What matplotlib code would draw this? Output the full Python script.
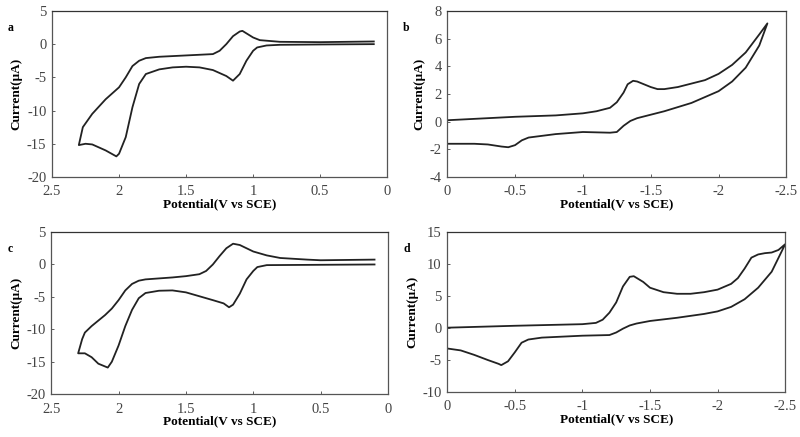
import matplotlib
matplotlib.use("Agg")
import matplotlib.pyplot as plt

plt.rcParams['font.family'] = ['Liberation Serif', 'DejaVu Serif']

# panel a: loop of (potential, current) points
a_x = [0.1, 0.5, 0.8, 0.9, 0.97, 1.0, 1.05, 1.1, 1.15, 1.2, 1.3, 1.4, 1.5, 1.6, 1.7, 1.8, 1.85, 1.9, 1.95,
       2.0, 2.02, 2.1, 2.2, 2.25, 2.3,
       2.27, 2.2, 2.1, 2.0, 1.95, 1.9, 1.85, 1.8, 1.7, 1.5, 1.3, 1.25, 1.2, 1.15, 1.1, 1.08, 1.0, 0.95, 0.8,
       0.5, 0.1]
a_y = [0.0, -0.05, -0.1, -0.2, -0.5, -1.0, -2.5, -4.5, -5.5, -4.8, -3.9, -3.5, -3.4, -3.5, -3.8, -4.5, -6.0,
       -9.5, -14.0, -16.5, -16.9, -16.0, -15.1, -15.0, -15.2,
       -12.5, -10.5, -8.3, -6.5, -5.0, -3.3, -2.5, -2.1, -1.9, -1.7, -1.5, -1.0, 0.0, 1.2, 1.9, 2.0, 1.0, 0.6,
       0.35, 0.3, 0.4]

# panel b
b_x = [0, -0.2, -0.3, -0.4, -0.45, -0.5, -0.55, -0.6, -0.8, -1.0, -1.2, -1.25, -1.3, -1.35, -1.4, -1.5, -1.6,
       -1.8, -2.0, -2.1, -2.2, -2.3, -2.36,
       -2.3, -2.2, -2.1, -2.0, -1.9, -1.8, -1.7, -1.6, -1.55, -1.5, -1.45, -1.4, -1.37, -1.33, -1.3, -1.25,
       -1.2, -1.1, -1.0, -0.8, -0.5, 0]
b_y = [-1.6, -1.6, -1.65, -1.8, -1.85, -1.7, -1.35, -1.15, -0.9, -0.75, -0.8, -0.75, -0.3, 0.05, 0.25, 0.5,
       0.75, 1.35, 2.2, 2.9, 3.9, 5.5, 7.1,
       6.3, 5.0, 4.1, 3.45, 3.0, 2.75, 2.5, 2.35, 2.35, 2.5, 2.7, 2.9, 2.95, 2.7, 2.1, 1.4,
       1.0, 0.75, 0.6, 0.45, 0.35, 0.1]

# panel c
c_x = [0.1, 0.5, 0.9, 0.97, 1.0, 1.05, 1.1, 1.15, 1.18, 1.22, 1.3, 1.4, 1.5, 1.6, 1.7, 1.8, 1.85, 1.9, 1.95,
       2.0, 2.05, 2.08, 2.15, 2.2, 2.25, 2.3,
       2.27, 2.25, 2.2, 2.1, 2.05, 2.0, 1.95, 1.9, 1.85, 1.8, 1.6, 1.5, 1.4, 1.35, 1.3, 1.25, 1.2, 1.15,
       1.1, 1.0, 0.9, 0.8, 0.6, 0.5, 0.3, 0.1]
c_y = [0.0, -0.05, -0.1, -0.4, -1.0, -2.3, -4.5, -6.2, -6.6, -6.0, -5.5, -4.9, -4.3, -4.0, -4.05, -4.4, -5.2,
       -7.0, -9.5, -12.5, -15.0, -15.9, -15.3, -14.3, -13.7, -13.7,
       -11.5, -10.5, -9.5, -7.8, -6.8, -5.5, -4.0, -3.0, -2.5, -2.3, -2.0, -1.8, -1.5, -1.0, 0.0, 1.3, 2.5,
       3.2, 3.0, 2.0, 1.4, 1.0, 0.75, 0.65, 0.7, 0.75]

# panel d
d_x = [0, -0.1, -0.2, -0.3, -0.38, -0.4, -0.45, -0.5, -0.55, -0.6, -0.7, -0.9, -1.0, -1.2, -1.25, -1.3,
       -1.35, -1.4, -1.5, -1.7, -1.9, -2.0, -2.1, -2.2, -2.3, -2.4, -2.5,
       -2.45, -2.4, -2.35, -2.3, -2.25, -2.2, -2.15, -2.1, -2.0, -1.9, -1.8, -1.7, -1.6, -1.5, -1.45,
       -1.38, -1.35, -1.3, -1.25, -1.2, -1.15, -1.1, -1.0, -0.5, 0]
d_y = [-3.2, -3.5, -4.2, -5.0, -5.6, -5.8, -5.2, -3.8, -2.3, -1.8, -1.5, -1.3, -1.2, -1.1, -0.7, -0.1,
       0.4, 0.7, 1.1, 1.6, 2.2, 2.6, 3.3, 4.5, 6.3, 8.8, 13.1,
       12.2, 11.8, 11.7, 11.5, 11.0, 9.3, 7.8, 6.9, 6.0, 5.6, 5.35, 5.35, 5.6, 6.3, 7.2,
       8.1, 8.0, 6.5, 4.0, 2.4, 1.3, 0.8, 0.6, 0.35, 0.05]

a_xticks = [2.5, 2, 1.5, 1, 0.5, 0]
a_xlabels = ['2.5', '2', '1.5', '1', '0.5', '0']
neg_xticks = [0, -0.5, -1, -1.5, -2, -2.5]
neg_xlabels = ['0', '-0.5', '-1', '-1.5', '-2', '-2.5']

panels = [
    ('a', a_x, a_y, [0.065, 0.595, 0.419, 0.380], (2.5, 0), (-20, 5), range(-20, 6, 5), a_xticks, a_xlabels),
    ('b', b_x, b_y, [0.559, 0.595, 0.424, 0.380], (0, -2.5), (-4, 8), range(-4, 9, 2), neg_xticks, neg_xlabels),
    ('c', c_x, c_y, [0.064, 0.098, 0.421, 0.371], (2.5, 0), (-20, 5), range(-20, 6, 5), a_xticks, a_xlabels),
    ('d', d_x, d_y, [0.559, 0.103, 0.4225, 0.366], (0, -2.5), (-10, 15), range(-10, 16, 5), neg_xticks, neg_xlabels),
]

fig = plt.figure(figsize=(8, 4.37), dpi=100)
for label, xs, ys, rect, xlim, ylim, yt, xt, xtl in panels:
    ax = fig.add_axes(rect)
    ax.plot(xs, ys, color='#222222', lw=1.3)
    ax.set_xlim(*xlim)
    ax.set_ylim(*ylim)
    ax.set_yticks(list(yt))
    ax.set_yticklabels([str(v) for v in yt])
    ax.set_xticks(xt)
    ax.set_xticklabels(xtl)
    ax.tick_params(direction='in', length=2, width=0.6, labelsize=10.5, colors='#444444', pad=4)
    ax.tick_params(axis='x', pad=6)
    for s in ax.spines.values():
        s.set_color('#555555')
        s.set_linewidth(0.9)
    ax.spines['top'].set_color('#333333')
    ax.set_xlabel('Potential(V vs SCE)', fontsize=9.5, fontweight='bold', labelpad=0)
    ax.set_ylabel('Current(μA)', fontsize=9.5, fontweight='bold', labelpad=3)
    fig.text(rect[0] - 0.055, rect[1] + rect[3] - 0.045, label, fontsize=8.5, fontweight='bold')

fig.savefig('out.png', dpi=100)
